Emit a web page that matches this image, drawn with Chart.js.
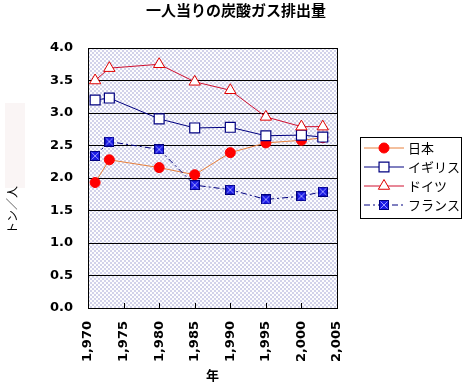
<!DOCTYPE html>
<html>
<head>
<meta charset="utf-8">
<script src="https://cdn.jsdelivr.net/npm/chart.js@4/dist/chart.umd.min.js"></script>
<style>
  body { margin: 0; background: #fff; }
  #wrap { width: 471px; height: 392px; }
</style>
</head>
<body>
<div id="wrap"><canvas id="co2-chart" width="471" height="392"></canvas></div>
<script>
// data
const years = [1971, 1973, 1980, 1985, 1990, 1995, 2000, 2003];
const japan = [1.93, 2.28, 2.16, 2.05, 2.39, 2.54, 2.58, 2.62];
const uk = [3.20, 3.23, 2.91, 2.77, 2.78, 2.65, 2.66, 2.63];
const germany = [3.50, 3.69, 3.75, 3.48, 3.35, 2.94, 2.79, 2.79];
const france = [2.34, 2.56, 2.44, 1.89, 1.82, 1.67, 1.72, 1.79];
const seriesNames = ['日本', 'イギリス', 'ドイツ', 'フランス'];
const yTicks = [0, 0.5, 1, 1.5, 2, 2.5, 3, 3.5, 4];
const xTicks = [1970, 1975, 1980, 1985, 1990, 1995, 2000, 2005];

const chartTitle = '一人当りの炭酸ガス排出量';
const yTitle = 'トン／人';
const xTitle = '年';

const jpFont = '"Noto Sans CJK JP", sans-serif';
const numFont = '"DejaVu Sans", sans-serif';

function toPoints(vals) {
    return vals.map((v, i) => ({ x: years[i], y: v }));
}

// checkered plot background
const pat = document.createElement('canvas');
pat.width = 4; pat.height = 4;
const pctx = pat.getContext('2d');
pctx.fillStyle = '#fdfdfe';
pctx.fillRect(0, 0, 4, 4);
pctx.fillStyle = '#d2d2ea';
pctx.fillRect(0, 0, 2, 2);
pctx.fillRect(2, 2, 2, 2);

// blue square with an X for France
const frMark = document.createElement('canvas');
frMark.width = 10; frMark.height = 10;
const fctx = frMark.getContext('2d');
fctx.fillStyle = '#1a1ae6';
fctx.fillRect(0, 0, 10, 10);
fctx.strokeStyle = '#9a9aff';
fctx.lineWidth = 1;
fctx.beginPath();
fctx.moveTo(1.5, 1.5); fctx.lineTo(8.5, 8.5);
fctx.moveTo(8.5, 1.5); fctx.lineTo(1.5, 8.5);
fctx.stroke();
fctx.strokeStyle = '#000080';
fctx.strokeRect(0.5, 0.5, 9, 9);

const decorPlugin = {
    id: 'decor',
    beforeDraw(chart) {
        const ctx = chart.ctx;
        const a = chart.chartArea;
        ctx.save();
        ctx.fillStyle = ctx.createPattern(pat, 'repeat');
        ctx.fillRect(a.left, a.top, a.right - a.left, a.bottom - a.top);
        // faint box left of the axis title
        ctx.fillStyle = '#faf5f5';
        ctx.fillRect(5, 103, 20, 85);
        ctx.restore();
    },
    beforeDatasetsDraw(chart) {
        const ctx = chart.ctx;
        const a = chart.chartArea;
        const xs = chart.scales.x;
        ctx.save();
        ctx.strokeStyle = '#000';
        ctx.lineWidth = 1;
        // short inward ticks on the x axis
        xs.ticks.forEach(t => {
            const px = Math.round(xs.getPixelForValue(t.value)) + 0.5;
            ctx.beginPath();
            ctx.moveTo(px, a.bottom);
            ctx.lineTo(px, a.bottom - 5);
            ctx.stroke();
        });
        ctx.strokeRect(Math.round(a.left) + 0.5, Math.round(a.top) + 0.5,
            Math.round(a.right - a.left), Math.round(a.bottom - a.top));
        ctx.restore();
    },
    afterDraw(chart) {
        const ctx = chart.ctx;
        ctx.save();
        ctx.fillStyle = '#000';
        ctx.textAlign = 'center';
        ctx.textBaseline = 'middle';
        ctx.font = 'bold 15px ' + jpFont;
        ctx.fillText(chartTitle, 236, 10);

        ctx.translate(12, 210);
        ctx.rotate(-Math.PI / 2);
        ctx.font = '12px ' + jpFont;
        ctx.fillText(yTitle, 0, 0);
        ctx.restore();

        // legend box
        const lx = 360, ly = 137, lw = 101, lh = 81;
        ctx.save();
        ctx.fillStyle = '#fff';
        ctx.fillRect(lx, ly, lw, lh);
        ctx.strokeStyle = '#000';
        ctx.lineWidth = 1;
        ctx.strokeRect(lx + 0.5, ly + 0.5, lw, lh);
        chart.data.datasets.forEach((ds, i) => {
            const y = ly + 11 + i * 19;
            ctx.strokeStyle = ds.borderColor;
            ctx.lineWidth = ds.borderWidth;
            ctx.setLineDash(ds.borderDash || []);
            ctx.beginPath();
            ctx.moveTo(lx + 4, y);
            ctx.lineTo(lx + 44, y);
            ctx.stroke();
            ctx.setLineDash([]);
            ctx.fillStyle = ds.pointBackgroundColor;
            ctx.strokeStyle = ds.pointBorderColor;
            ctx.lineWidth = ds.pointBorderWidth;
            Chart.helpers.drawPoint(ctx, {
                pointStyle: ds.pointStyle, rotation: 0,
                radius: ds.pointRadius, borderWidth: ds.pointBorderWidth
            }, lx + 24, y);
            ctx.fillStyle = '#000';
            ctx.font = '13px ' + jpFont;
            ctx.textAlign = 'left';
            ctx.textBaseline = 'middle';
            ctx.fillText(ds.label, lx + 48, y);
        });
        ctx.restore();
    }
};

const ctx = document.getElementById('co2-chart').getContext('2d');
new Chart(ctx, {
    type: 'line',
    data: {
        datasets: [{
            label: seriesNames[0],
            data: toPoints(japan),
            borderColor: '#e8803c',
            borderWidth: 1,
            pointStyle: 'circle',
            pointRadius: 5,
            pointBackgroundColor: '#ff0000',
            pointBorderColor: '#ff0000',
            pointBorderWidth: 1,
            order: 4
        }, {
            label: seriesNames[1],
            data: toPoints(uk),
            borderColor: '#000080',
            borderWidth: 1,
            pointStyle: 'rect',
            pointRadius: 7,
            pointBackgroundColor: '#ffffff',
            pointBorderColor: '#000080',
            pointBorderWidth: 1.2,
            order: 3
        }, {
            label: seriesNames[2],
            data: toPoints(germany),
            borderColor: '#d01030',
            borderWidth: 1,
            pointStyle: 'triangle',
            pointRadius: 6.5,
            pointBackgroundColor: '#ffffff',
            pointBorderColor: '#e00000',
            pointBorderWidth: 1,
            order: 2
        }, {
            label: seriesNames[3],
            data: toPoints(france),
            borderColor: '#000080',
            borderWidth: 1,
            borderDash: [6, 3, 2, 3],
            pointStyle: frMark,
            pointRadius: 5,
            pointBackgroundColor: '#1a1ae6',
            pointBorderColor: '#000080',
            pointBorderWidth: 1,
            order: 1
        }]
    },
    options: {
        responsive: false,
        animation: false,
        tension: 0,
        layout: { padding: { top: 48, right: 134, left: 0, bottom: 0 } },
        plugins: {
            legend: { display: false },
            title: { display: false },
            tooltip: { enabled: false }
        },
        scales: {
            x: {
                type: 'linear',
                min: xTicks[0],
                max: xTicks[xTicks.length - 1],
                afterBuildTicks(scale) {
                    scale.ticks = xTicks.map(v => ({ value: v }));
                },
                afterFit(scale) { scale.height = 84; },
                grid: { display: false, drawTicks: false },
                border: { display: false },
                ticks: {
                    minRotation: 90,
                    maxRotation: 90,
                    padding: 13,
                    color: '#000',
                    font: { family: numFont, size: 13, weight: 'bold' },
                    callback: v => v.toLocaleString('en-US')
                },
                title: {
                    display: true,
                    text: xTitle,
                    color: '#000',
                    font: { family: jpFont, size: 13, weight: 'bold' },
                    padding: { top: 0, bottom: 9 }
                }
            },
            y: {
                min: 0,
                max: 4,
                afterBuildTicks(scale) {
                    scale.ticks = yTicks.map(v => ({ value: v }));
                },
                afterFit(scale) { scale.width = 88; },
                grid: { color: '#000', lineWidth: 1, drawTicks: false },
                border: { display: false },
                ticks: {
                    padding: 15,
                    color: '#000',
                    font: { family: numFont, size: 13, weight: 'bold' },
                    callback: v => v.toFixed(1)
                }
            }
        }
    },
    plugins: [decorPlugin]
});
</script>
</body>
</html>
